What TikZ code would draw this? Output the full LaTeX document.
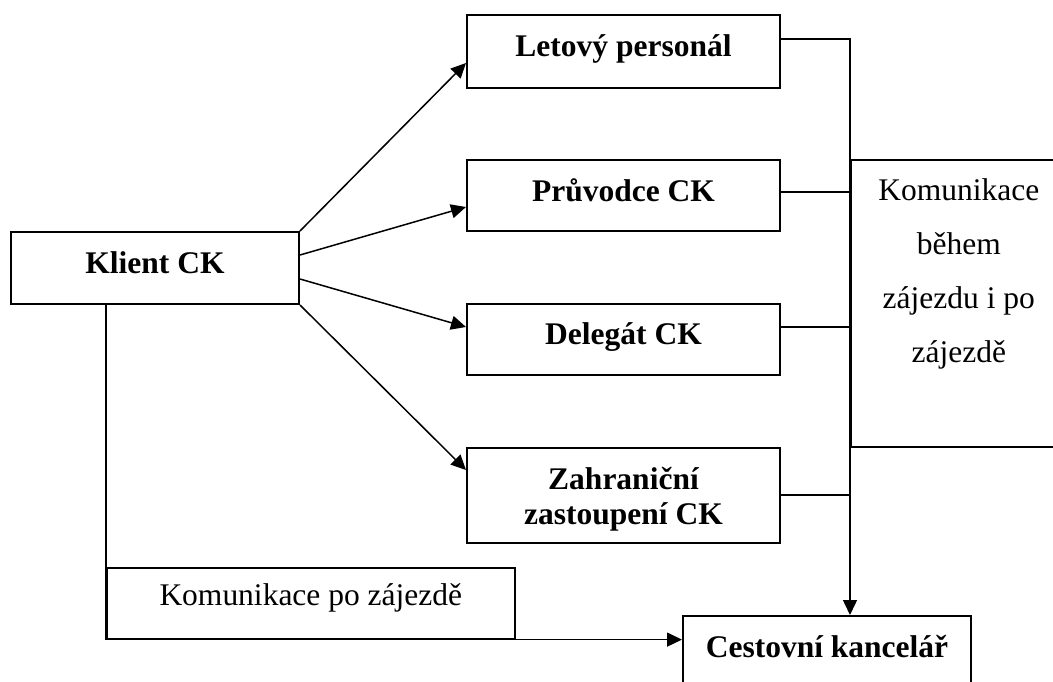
\documentclass[tikz,border=0pt]{standalone}
\usepackage{fontspec}
\setmainfont{Liberation Serif}
\usetikzlibrary{arrows.meta}
\begin{document}
\begin{tikzpicture}[x=1pt,y=-1pt,
  box/.style={draw, line width=2pt, anchor=north west, inner sep=0pt,
    font=\fontsize{31.5}{35}\selectfont\bfseries},
  plain/.style={draw, line width=1.6pt, anchor=north west, inner sep=0pt,
    font=\fontsize{31.5}{35}\selectfont},
  link/.style={line width=1.5pt},
  arr/.style={link, -{Triangle[length=15pt,width=14pt]}}]
\useasboundingbox (0,0) rectangle (1053,681);
\clip (0,0) rectangle (1053,681);

% client and the four contact points
\node[box, minimum width=288pt, text height=41pt, text depth=31pt] (kl) at (10,231) {Klient CK};
\node[box, minimum width=313pt, text height=41pt, text depth=32pt] (let) at (466,14) {Letový personál};
\node[box, minimum width=313pt, text height=41pt, text depth=30pt] (pr) at (466,159) {Průvodce CK};
\node[box, minimum width=313pt, text height=40pt, text depth=31pt] (de) at (466,303) {Delegát CK};
\node[box, minimum width=313pt, text height=41pt, text depth=54pt] (za) at (466,447)
  {\parbox[t]{313pt}{\centering\fontsize{31.5}{35}\selectfont\bfseries Zahraniční\\zastoupení CK}};

% travel agency, running off the lower edge
\node[box, minimum width=288pt, text height=41pt, text depth=40pt] (ck) at (682,615) {Cestovní kancelář};

% labels of the two communication channels
\node[plain, minimum width=216pt, text height=41pt, text depth=246pt] (kd) at (850,159)
  {\parbox[t]{216pt}{\centering\fontsize{31.5}{54}\selectfont Komunikace\\během\\zájezdu i po\\zájezdě}};
\node[plain, minimum width=408pt, text height=38pt, text depth=33pt] (kp) at (106,567) {Komunikace po zájezdě};

% client to contact points
\draw[arr] (kl.north east) -- (let.west |- 0,63);
\draw[arr] (kl.east |- 0,255) -- (pr.west |- 0,207);
\draw[arr] (kl.east |- 0,279) -- (de.west |- 0,327);
\draw[arr] (kl.south east) -- (za.west |- 0,470);

% contact points to the agency
\draw[arr] (let.east |- 0,39) -| (ck.north -| kd.west);
\draw[link] (pr.east |- 0,192) -- (kd.west |- 0,192);
\draw[link] (de.east |- 0,327) -- (kd.west |- 0,327);
\draw[link] (za.east |- 0,495) -- (kd.west |- 0,495);

% direct communication after the trip
\draw[arr] (kl.south -| kp.west) |- (ck.west |- kp.south);
\end{tikzpicture}
\end{document}
